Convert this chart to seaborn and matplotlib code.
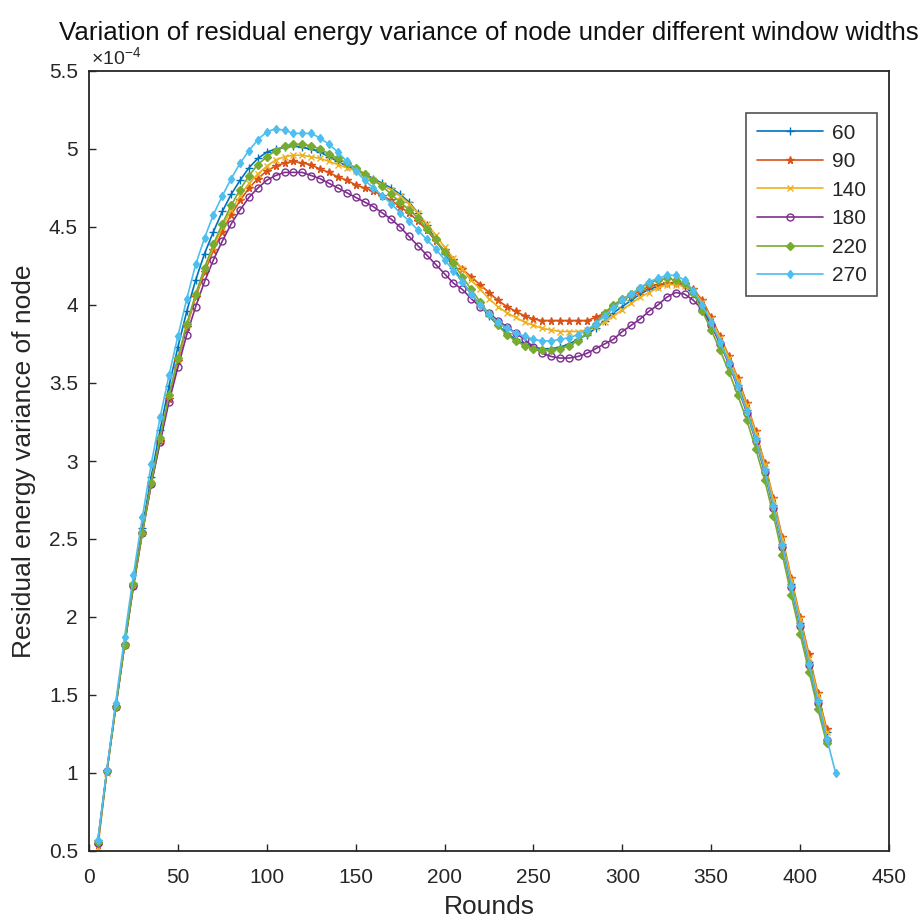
import matplotlib
matplotlib.use("Agg")
import matplotlib.pyplot as plt
import seaborn as sns
import numpy as np

# ---------------- data (values in units of 1e-4) ----------------
rounds = list(range(5, 425, 5))  # 5 .. 420

labels = ["60", "90", "140", "180", "220", "270"]

w60 = [0.57, 1.01, 1.43, 1.83, 2.22, 2.57, 2.90, 3.20, 3.48, 3.73,
       3.96, 4.16, 4.33, 4.47, 4.60, 4.71, 4.80, 4.88, 4.94, 4.98,
       5.00, 5.01, 5.02, 5.01, 5.00, 4.98, 4.95, 4.92, 4.89, 4.87,
       4.84, 4.81, 4.78, 4.75, 4.71, 4.66, 4.59, 4.51, 4.42, 4.33,
       4.24, 4.15, 4.07, 4.00, 3.93, 3.87, 3.82, 3.78, 3.75, 3.73,
       3.72, 3.72, 3.73, 3.75, 3.78, 3.81, 3.85, 3.90, 3.95, 3.99,
       4.03, 4.07, 4.10, 4.12, 4.14, 4.14, 4.12, 4.07, 3.99, 3.88,
       3.76, 3.63, 3.49, 3.33, 3.15, 2.95, 2.72, 2.47, 2.21, 1.96,
       1.71, 1.47, 1.26]

w90 = [0.54, 1.01, 1.42, 1.82, 2.20, 2.54, 2.85, 3.13, 3.40, 3.64,
       3.86, 4.05, 4.21, 4.35, 4.47, 4.58, 4.67, 4.75, 4.81, 4.86,
       4.89, 4.91, 4.92, 4.91, 4.90, 4.87, 4.85, 4.82, 4.80, 4.77,
       4.75, 4.73, 4.70, 4.67, 4.63, 4.59, 4.54, 4.48, 4.41, 4.35,
       4.29, 4.23, 4.18, 4.13, 4.08, 4.03, 3.99, 3.96, 3.93, 3.91,
       3.90, 3.90, 3.90, 3.90, 3.90, 3.90, 3.92, 3.95, 3.99, 4.03,
       4.06, 4.09, 4.12, 4.13, 4.14, 4.14, 4.13, 4.10, 4.03, 3.92,
       3.80, 3.67, 3.53, 3.37, 3.19, 2.99, 2.76, 2.51, 2.25, 2.00,
       1.76, 1.51, 1.28]

w140 = [0.52, 1.00, 1.42, 1.82, 2.20, 2.54, 2.86, 3.14, 3.41, 3.65,
        3.87, 4.06, 4.23, 4.37, 4.50, 4.61, 4.70, 4.78, 4.84, 4.89,
        4.93, 4.95, 4.96, 4.96, 4.95, 4.94, 4.92, 4.90, 4.88, 4.86,
        4.83, 4.80, 4.77, 4.74, 4.70, 4.65, 4.59, 4.52, 4.45, 4.37,
        4.30, 4.23, 4.16, 4.10, 4.04, 3.99, 3.95, 3.92, 3.89, 3.87,
        3.85, 3.84, 3.83, 3.83, 3.83, 3.84, 3.86, 3.89, 3.93, 3.97,
        4.01, 4.05, 4.08, 4.11, 4.13, 4.13, 4.12, 4.09, 4.02, 3.91,
        3.79, 3.66, 3.52, 3.36, 3.18, 2.98, 2.75, 2.50, 2.24, 1.99,
        1.74, 1.50, 1.26]

w180 = [0.55, 1.01, 1.42, 1.82, 2.20, 2.54, 2.85, 3.12, 3.38, 3.60,
        3.81, 3.99, 4.15, 4.29, 4.41, 4.52, 4.61, 4.69, 4.75, 4.80,
        4.83, 4.85, 4.85, 4.85, 4.83, 4.81, 4.78, 4.75, 4.72, 4.69,
        4.66, 4.63, 4.59, 4.55, 4.50, 4.44, 4.38, 4.32, 4.26, 4.20,
        4.14, 4.10, 4.04, 3.99, 3.95, 3.90, 3.86, 3.82, 3.78, 3.73,
        3.69, 3.67, 3.66, 3.66, 3.67, 3.69, 3.72, 3.75, 3.78, 3.83,
        3.87, 3.91, 3.96, 4.00, 4.05, 4.08, 4.07, 4.03, 3.97, 3.87,
        3.75, 3.62, 3.47, 3.31, 3.13, 2.93, 2.70, 2.45, 2.19, 1.94,
        1.69, 1.45, 1.21]

w220 = [0.56, 1.01, 1.42, 1.82, 2.21, 2.54, 2.86, 3.15, 3.42, 3.66,
        3.88, 4.07, 4.24, 4.39, 4.52, 4.64, 4.74, 4.83, 4.90, 4.95,
        4.99, 5.02, 5.03, 5.03, 5.02, 5.00, 4.97, 4.94, 4.91, 4.88,
        4.84, 4.80, 4.76, 4.71, 4.66, 4.61, 4.56, 4.49, 4.42, 4.34,
        4.27, 4.18, 4.10, 4.02, 3.94, 3.87, 3.81, 3.77, 3.74, 3.72,
        3.71, 3.71, 3.72, 3.74, 3.77, 3.82, 3.88, 3.95, 4.00, 4.04,
        4.07, 4.11, 4.14, 4.16, 4.17, 4.16, 4.14, 4.08, 3.96, 3.84,
        3.71, 3.57, 3.42, 3.26, 3.08, 2.88, 2.65, 2.40, 2.14, 1.89,
        1.65, 1.41, 1.19]

w270 = [0.57, 1.02, 1.45, 1.87, 2.27, 2.64, 2.98, 3.28, 3.55, 3.80,
        4.04, 4.26, 4.43, 4.58, 4.70, 4.81, 4.91, 4.99, 5.06, 5.11,
        5.13, 5.12, 5.10, 5.10, 5.10, 5.07, 5.03, 4.98, 4.92, 4.86,
        4.80, 4.75, 4.70, 4.65, 4.59, 4.54, 4.48, 4.42, 4.36, 4.29,
        4.22, 4.15, 4.07, 4.00, 3.94, 3.89, 3.85, 3.82, 3.80, 3.78,
        3.77, 3.77, 3.78, 3.79, 3.81, 3.84, 3.88, 3.93, 3.98, 4.03,
        4.07, 4.11, 4.15, 4.17, 4.19, 4.19, 4.16, 4.09, 4.00, 3.89,
        3.76, 3.63, 3.48, 3.32, 3.14, 2.94, 2.71, 2.46, 2.20, 1.95,
        1.70, 1.46, 1.22, 1.00]

x_ticks = [0, 50, 100, 150, 200, 250, 300, 350, 400, 450]
y_ticks = [0.5, 1, 1.5, 2, 2.5, 3, 3.5, 4, 4.5, 5, 5.5]
y_tick_labels = ["0.5", "1", "1.5", "2", "2.5", "3", "3.5", "4", "4.5", "5", "5.5"]

# ---------------- style ----------------
sns.set_theme(style="white")
plt.rcParams["font.family"] = ["Liberation Sans", "DejaVu Sans"]
plt.rcParams["mathtext.fontset"] = "custom"
plt.rcParams["mathtext.rm"] = "Liberation Sans"
plt.rcParams["mathtext.it"] = "Liberation Sans:italic"

colors = ["#0072BD", "#D95319", "#EDB120", "#7E2F8E", "#77AC30", "#4DBEEE"]
markers = ["+", "*", "x", "o", "D", "d"]
facecols = [None, None, None, "none", "#77AC30", "#4DBEEE"]
msizes = [5.5, 5.5, 4.5, 5, 3.8, 4.5]

series = [w60, w90, w140, w180, w220, w270]

fig = plt.figure(figsize=(9.24, 9.23), dpi=100)
ax = fig.add_axes([89 / 924, 1 - 851 / 923, 800 / 924, 780 / 923])

for lbl, vals, c, m, fc, ms in zip(labels, series, colors, markers, facecols, msizes):
    kw = dict(marker=m, markersize=ms, markeredgecolor=c, markeredgewidth=1.0)
    if fc is not None:
        kw["markerfacecolor"] = fc
    sns.lineplot(x=rounds[:len(vals)], y=vals, ax=ax, color=c, linewidth=1.2,
                 label=lbl, estimator=None, **kw)

ax.set_xlim(0, 450)
ax.set_ylim(0.5, 5.5)
ax.set_xticks(x_ticks)
ax.set_xticklabels([str(t) for t in x_ticks])
ax.set_yticks(y_ticks)
ax.set_yticklabels(y_tick_labels)

for s in ax.spines.values():
    s.set_color("#262626")
    s.set_linewidth(1.3)

ax.tick_params(direction="in", length=5, width=1, labelsize=15,
               colors="#262626", bottom=True, left=True, top=False, right=False)
ax.tick_params(axis="x", pad=12)
ax.tick_params(axis="y", pad=8)

ax.set_xlabel("Rounds", fontsize=19, color="#262626", labelpad=6)
ax.set_ylabel("Residual energy variance of node", fontsize=19, color="#262626", labelpad=9)
ax.set_title("Variation of residual energy variance of node under different window widths",
             fontsize=18.6, color="#111111", pad=22)

ax.text(0.003, 1.004, r"$\mathregular{\times10^{-4}}$", transform=ax.transAxes,
        ha="left", va="bottom", fontsize=14, color="#262626")

leg = ax.legend(loc="upper right", bbox_to_anchor=(0.985, 0.946), borderaxespad=0,
                frameon=True, fancybox=False, edgecolor="#262626", fontsize=15,
                handlelength=3.2, labelspacing=0.46, numpoints=1, borderpad=0.5,
                handletextpad=0.4)
leg.get_frame().set_linewidth(1.2)

fig.savefig("out.png", dpi=100, facecolor="white")
